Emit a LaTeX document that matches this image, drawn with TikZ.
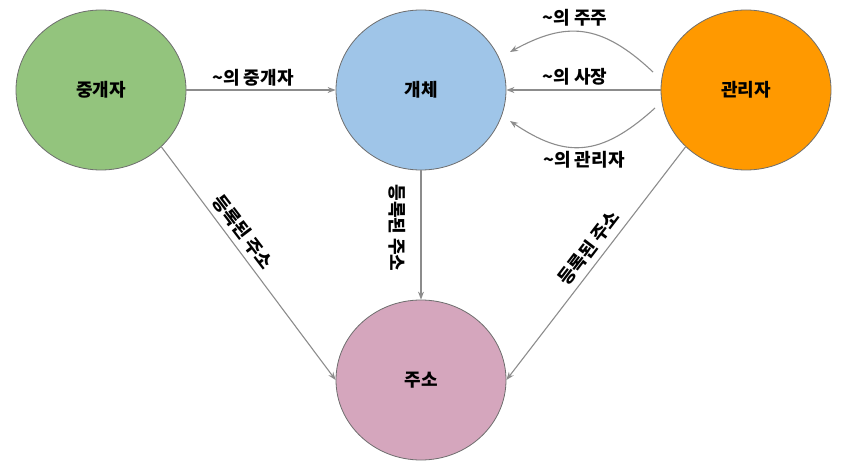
\documentclass[tikz,border=0pt]{standalone}
\usepackage{fontspec}
\setmainfont{Noto Sans CJK KR}
\usetikzlibrary{shapes.geometric,arrows.meta}
\definecolor{cgreen}{HTML}{93C47D}
\definecolor{cblue}{HTML}{9FC5E8}
\definecolor{corange}{HTML}{FF9900}
\definecolor{cpink}{HTML}{D5A6BD}
\definecolor{bordergray}{HTML}{6E6E6E}
\definecolor{linegray}{HTML}{8C8C8C}
\newcommand{\tl}{\textasciitilde}
\begin{document}
\begin{tikzpicture}[x=1pt,y=-1pt,
  ent/.style={ellipse, draw=bordergray, line width=0.8pt, minimum width=170pt, minimum height=160pt, inner sep=0pt, font=\bfseries\fontsize{18}{20}\selectfont},
  rel/.style={draw=linegray, line width=1.1pt, -{Stealth[length=8pt,width=6pt]}},
  lab/.style={font=\bfseries\fontsize{18}{20}\selectfont, inner sep=0pt}]
\useasboundingbox (0,0) rectangle (844,468);
\node[ent, fill=cgreen] (A) at (101,90) {중개자};
\node[ent, fill=cblue] (B) at (421,90) {개체};
\node[ent, fill=corange] (C) at (746,90) {관리자};
\node[ent, fill=cpink] (D) at (421,380) {주소};
\coordinate (t1) at (653,72);
\coordinate (t2) at (510,52);
\coordinate (b1) at (655,108);
\coordinate (b2) at (510,121);
\draw[rel] (A.east) -- (B.west);
\draw[rel] (C.west) -- (B.east);
\draw[rel] (t1) .. controls (600,22) and (565,22) .. (t2);
\draw[rel] (b1) .. controls (600,158) and (565,158) .. (b2);
\draw[rel] (A.south east) -- (D.west);
\draw[rel] (B.south) -- (D.north);
\draw[rel] (C.south west) -- (D.east);
\node[lab] (l1) at (253,78) {\tl 의 중개자};
\node[lab] (l2) at (575,77) {\tl 의 사장};
\node[lab] (l3) at (575,18) {\tl 의 주주};
\node[lab] (l4) at (584,160) {\tl 의 관리자};
\node[lab, rotate=-52.6] (l5) at (243,232) {등록된 주소};
\node[lab, rotate=-90] (l6) at (397,228) {등록된 주소};
\node[lab, rotate=52.5] (l7) at (589,248) {등록된 주소};
\end{tikzpicture}
\end{document}
